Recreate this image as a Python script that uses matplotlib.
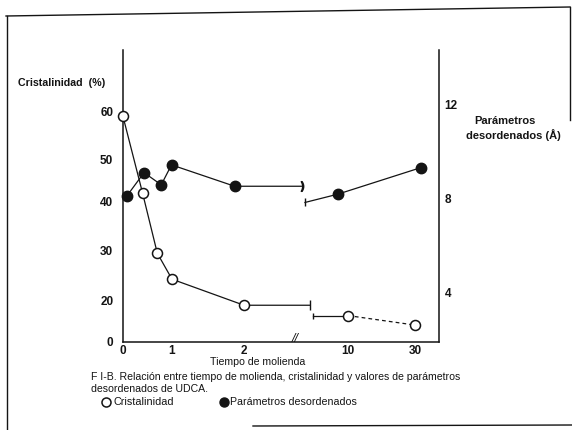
import matplotlib
matplotlib.use("Agg")
import matplotlib.pyplot as plt
import numpy as np
from matplotlib.lines import Line2D
from matplotlib.transforms import blended_transform_factory

# tiempo de molienda vs cristalinidad (%) y parametros desordenados (A)
tiempo_cris = [0, 0.4, 0.7, 1, 2, 10, 30]
cristalinidad = [59, 42, 29.5, 24.3, 17.8, 12.8, 8.2]
tiempo_desord = [0.08, 0.43, 0.78, 0.99, 1.87, 9.2, 31.7]
desordenados = [8.13, 9.12, 8.6, 9.45, 8.54, 8.2, 9.33]

# where each curve is cut by the axis break, and where it picks up again
corte_cris = [7.08, 7.31]
corte_desord = [6.44, 6.69]
desord_tras_corte = 7.85
corte_eje = 5.92

x_ticks = [0, 1, 2, 10, 30]
y_ticks_cris = [0, 20, 30, 40, 50, 60]
y_ticks_desord = [4, 8, 12]

W, H = 572, 430


def fx(px):
    return px / W


def fy(py):
    return 1 - py / H


# the printed axes are not evenly spaced, so use piecewise-linear scales
x_vals = [0, 1, 2, 10, 30, 37.2]
x_pos = [0, 49, 121, 225, 292, 316]
y_vals = [0, 20, 30, 40, 50, 60, 73]
y_pos = [0, 41.3, 91.3, 140.3, 182.7, 230.3, 292]


def scale_funcs(vals, pos):
    fwd = lambda v: np.interp(v, vals, pos)
    inv = lambda p: np.interp(p, pos, vals)
    return fwd, inv


plt.rcParams['font.family'] = ['Liberation Sans', 'DejaVu Sans']
ink = '#141414'

fig = plt.figure(figsize=(W / 100, H / 100), dpi=100)
ax = fig.add_axes([fx(123), fy(342), (439 - 123) / W, (342 - 50) / H])
ax.set_xscale('function', functions=scale_funcs(x_vals, x_pos))
ax.set_yscale('function', functions=scale_funcs(y_vals, y_pos))
ax.set_xlim(0, 37.2)
ax.set_ylim(0, 73)
ax2 = ax.twinx()
ax2.set_ylim(1.91, 14.34)

for a in (ax, ax2):
    a.patch.set_visible(False)
    for s in a.spines.values():
        s.set_visible(False)
ax.spines['left'].set_visible(True)
ax.spines['bottom'].set_visible(True)
ax2.spines['right'].set_visible(True)
for s in (ax.spines['left'], ax.spines['bottom'], ax2.spines['right']):
    s.set_linewidth(1.1)
    s.set_color(ink)

ax.set_xticks(x_ticks)
ax.set_xticklabels([str(t) for t in x_ticks])
ax.set_yticks(y_ticks_cris)
ax.set_yticklabels([str(t) for t in y_ticks_cris])
ax2.set_yticks(y_ticks_desord)
ax2.set_yticklabels([str(t) for t in y_ticks_desord])
ax.tick_params(axis='x', length=0, pad=2.5, labelsize=8.5, labelcolor=ink)
ax.tick_params(axis='y', length=0, pad=7, labelsize=8.5, labelcolor=ink)
ax2.tick_params(axis='y', length=0, pad=4, labelsize=8.5, labelcolor=ink)
for lab in ax.get_xticklabels() + ax.get_yticklabels() + ax2.get_yticklabels():
    lab.set_fontweight('bold')

lw = 0.9
# cristalinidad: open circles, left axis
ax.plot(tiempo_cris[:5] + [corte_cris[0]], cristalinidad[:5] + [cristalinidad[4]],
        color=ink, lw=lw, clip_on=False)
ax.plot([corte_cris[0]], [cristalinidad[4]], marker='|', ms=7, mew=1, color=ink)
ax.plot([corte_cris[1], tiempo_cris[5]], [cristalinidad[5], cristalinidad[5]],
        color=ink, lw=lw)
ax.plot([corte_cris[1]], [cristalinidad[5]], marker='|', ms=5, mew=1, color=ink)
ax.plot(tiempo_cris[5:], cristalinidad[5:], color=ink, lw=lw, ls=(0, (3, 2.5)))
ax.plot(tiempo_cris, cristalinidad, ls='none', marker='o', ms=7.2,
        mfc='white', mec=ink, mew=1.1, clip_on=False, zorder=5)

# parametros desordenados: filled circles, right axis
ax2.plot(tiempo_desord[:5] + [corte_desord[0]], desordenados[:5] + [desordenados[4]],
         color=ink, lw=lw, clip_on=False)
ax2.plot([corte_desord[0]], [desordenados[4]], marker='$)$', ms=7, color=ink)
ax2.plot([corte_desord[1]] + tiempo_desord[5:], [desord_tras_corte] + desordenados[5:],
         color=ink, lw=lw, clip_on=False)
ax2.plot([corte_desord[1]], [desord_tras_corte], marker='|', ms=6, mew=1, color=ink)
ax2.plot(tiempo_desord, desordenados, ls='none', marker='o', ms=7.5,
         mfc=ink, mec=ink, clip_on=False, zorder=5)

# break mark on the time axis
tr = blended_transform_factory(ax.transData, ax.transAxes)
ax.text(corte_eje, 0.01, '//', transform=tr, ha='center', va='center',
        fontsize=9, style='italic', color=ink)

# axis titles and caption
fig.text(fx(18), fy(83.5), 'Cristalinidad  (%)', ha='left', va='center',
         fontsize=7.7, fontweight='bold', color=ink)
fig.text(fx(505), fy(120.7), 'Parámetros', ha='center', va='center',
         fontsize=8, fontweight='bold', color=ink)
fig.text(fx(513), fy(135), 'desordenados (Å)', ha='center', va='center',
         fontsize=8, fontweight='bold', color=ink)
fig.text(fx(257.5), fy(362), 'Tiempo de molienda', ha='center', va='center',
         fontsize=7.6, color=ink)
fig.text(fx(91), fy(377.3),
         'F I-B. Relación entre tiempo de molienda, cristalinidad y valores de parámetros',
         ha='left', va='center', fontsize=7.55, color=ink)
fig.text(fx(91), fy(388.7), 'desordenados de UDCA.', ha='left', va='center',
         fontsize=7.55, color=ink)

# key below the caption
fig.add_artist(Line2D([fx(105.7)], [fy(401.7)], marker='o', ms=6.5, mfc='white',
                      mec=ink, mew=1.1, transform=fig.transFigure))
fig.text(fx(113), fy(401.7), 'Cristalinidad', ha='left', va='center',
         fontsize=7.8, color=ink)
fig.add_artist(Line2D([fx(224)], [fy(401.7)], marker='o', ms=6.5, mfc=ink,
                      mec=ink, transform=fig.transFigure))
fig.text(fx(230), fy(401.7), 'Parámetros desordenados', ha='left', va='center',
         fontsize=7.7, color=ink)

# page frame
frame = [([6, 570], [16, 7]), ([7, 7], [16, 430]), ([570, 570], [7, 120]),
         ([253, 572], [426, 425])]
for xs, ys in frame:
    fig.add_artist(Line2D([fx(v) for v in xs], [fy(v) for v in ys], lw=1.0,
                          color=ink, transform=fig.transFigure))

fig.savefig('out.png', dpi=100, facecolor='white')
